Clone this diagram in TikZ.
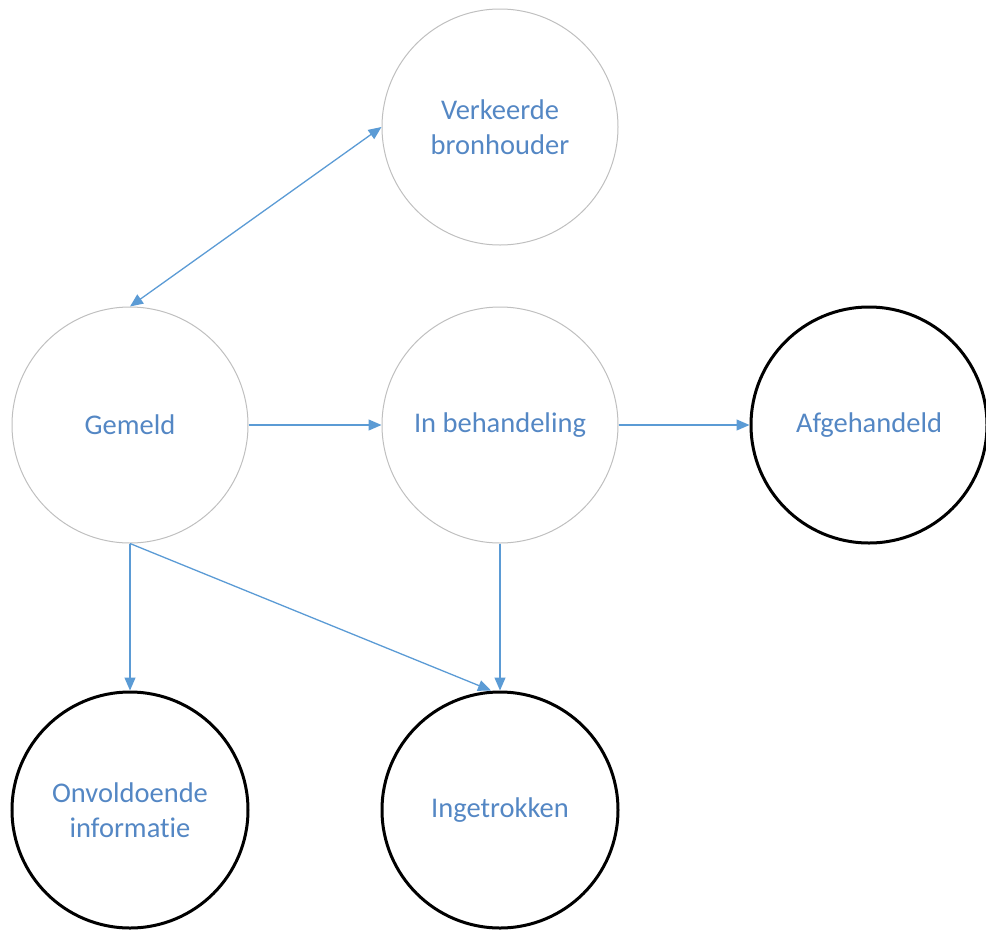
\documentclass[tikz,border=0pt]{standalone}
\usepackage{fontspec}
\setmainfont{Carlito}[RawFeature=-liga]
\usetikzlibrary{arrows.meta}
\definecolor{tekst}{RGB}{84,135,196}
\definecolor{pijl}{RGB}{91,155,213}
\definecolor{rand}{RGB}{191,191,191}
\tikzset{
  toestand/.style={circle, draw=rand, line width=1pt, minimum size=236pt, inner sep=0pt,
    align=center, text=tekst, font=\fontsize{28.5}{35}\selectfont},
  eind/.style={toestand, draw=black, line width=3pt},
  pijlen/.style={draw=pijl, line width=1.3pt, -{Triangle[length=13pt,width=11pt]}}
}
\begin{document}
\begin{tikzpicture}[x=1pt,y=1pt]
\useasboundingbox (0,0) rectangle (986,-930);

\node[toestand] (verkeerde) at (500,-127) {Verkeerde\\bronhouder};
\node[toestand] (gemeld) at (130,-425) {Gemeld};
\node[toestand] (behandeling) at (500,-425) {In behandeling};
\node[eind] (afgehandeld) at (869,-425) {Afgehandeld};
\node[eind] (onvoldoende) at (130,-810) {Onvoldoende\\informatie};
\node[eind] (ingetrokken) at (500,-810) {Ingetrokken};

\draw[pijlen, {Triangle[length=13pt,width=11pt]}-{Triangle[length=13pt,width=11pt]}] (gemeld.north) -- (verkeerde.west);
\draw[pijlen] (gemeld.east) -- (behandeling.west);
\draw[pijlen] (behandeling.east) -- (afgehandeld.west);
\draw[pijlen] (gemeld.south) -- (onvoldoende.north);
\draw[pijlen] (gemeld.south) -- ([xshift=-9pt]ingetrokken.north);
\draw[pijlen] (behandeling.south) -- (ingetrokken.north);
\end{tikzpicture}
\end{document}
